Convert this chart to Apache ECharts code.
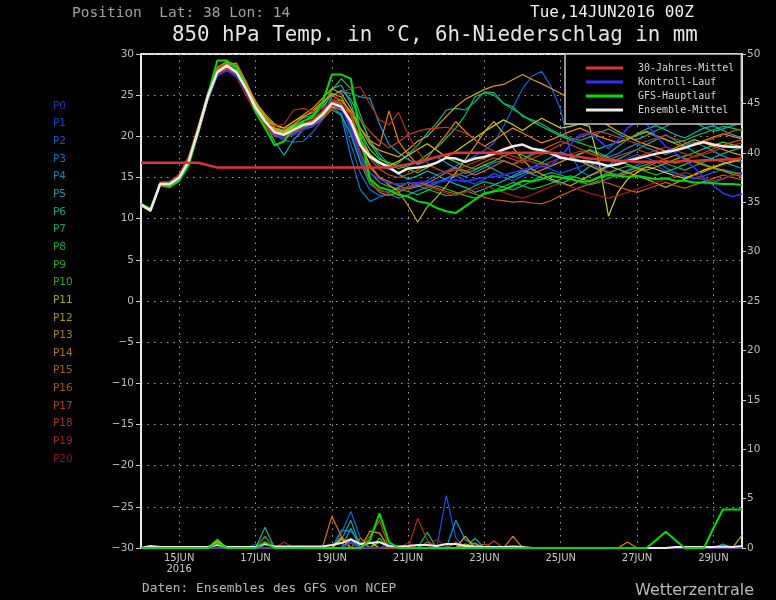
<!DOCTYPE html>
<html><head><meta charset="utf-8">
<script src="https://cdn.jsdelivr.net/npm/echarts@6/dist/echarts.min.js"></script>
<style>html,body{margin:0;padding:0;background:#000;}#chart{width:776px;height:600px;}</style>
</head><body><div id="chart"></div>
<script>
// ---------- axis / labels ----------
const stepHours = Array.from({length: 64}, (_, i) => String(i * 6)); // 14JUN2016 00Z + 6h steps
const tickLabels = ['15JUN\n2016', '17JUN', '19JUN', '21JUN', '23JUN', '25JUN', '27JUN', '29JUN'];
const memberNames = ['P0','P1','P2','P3','P4','P5','P6','P7','P8','P9','P10','P11','P12','P13','P14','P15','P16','P17','P18','P19','P20'];
const legendNames = ['30-Jahres-Mittel', 'Kontroll-Lauf', 'GFS-Hauptlauf', 'Ensemble-Mittel'];

// ---------- 850 hPa temperature (°C) ----------
const T_P01 = [11.6,11.1,14.0,14.3,14.8,16.8,20.5,24.6,27.5,28.0,27.2,25.4,23.2,21.5,20.2,19.8,20.3,21.0,21.5,22.8,24.5,23.8,
  20.5,17.0,14.8,13.8,13.4,13.6,13.9,14.2,14.0,14.5, 14.8,15.2,14.6,14.2,14.8,15.5,15.0,14.6,15.2,15.8,
  16.4,16.0,15.5,15.9,16.3,16.8,16.2,15.7,15.4,15.9, 16.5,16.9,16.4,15.8,15.5,15.1,14.8,15.2,15.6,16.0, 15.7,15.3];
const T_P02 = [11.8,11.0,14.3,14.0,15.2,17.2,21.0,25.0,27.6,28.2,27.5,25.6,23.8,22.0,20.2,19.5,19.3,19.4,20.5,22.0,23.5,22.8,
  19.0,15.5,13.5,12.8,13.0,13.4,13.8,14.0,14.6,15.3, 15.8,16.4,17.0,17.6,18.3,19.2,21.2,23.5,25.8,27.3,
  27.9,26.0,23.2,18.0,15.8,15.2,15.6,16.3,16.8,17.3, 17.8,17.4,16.9,16.2,15.6,15.2,15.0,14.7,14.4,14.8, 15.3,15.7];
const T_P03 = [11.7,10.9,14.1,14.2,15.0,17.1,20.9,24.9,27.9,28.4,27.6,25.9,23.7,21.9,20.6,20.3,20.6,21.2,21.4,22.3,23.6,22.5,
  17.5,13.5,12.1,12.6,13.0,12.5,12.9,13.4,13.8,14.3, 14.9,15.5,15.1,15.6,16.2,16.8,17.1,16.6,17.2,17.9,
  18.5,18.0,17.6,17.2,17.8,18.4,18.0,17.5,17.9,18.6, 19.1,18.6,18.2,17.8,18.3,18.9,19.3,18.8,18.2,17.6, 17.2,16.8];
const T_P04 = [11.6,11.2,14.4,14.4,15.3,17.4,21.2,25.2,28.0,28.9,28.3,26.5,24.3,22.4,21.0,20.8,21.5,22.2,22.6,23.5,25.0,25.5,
  25.2,24.8,24.6,21.5,19.0,18.0,17.2,16.6,17.0,17.5, 16.8,16.1,15.5,15.9,16.5,16.0,15.4,15.0,15.5,16.2,
  16.8,17.5,18.1,17.6,17.0,16.4,15.9,16.5,17.2,17.8, 18.4,19.0,19.6,20.2,19.5,18.8,18.1,17.6,17.2,16.9, 16.5,16.1];
const T_P05 = [11.8,11.1,14.2,14.1,14.9,16.8,20.4,24.4,27.4,28.3,27.9,26.2,24.0,21.6,19.4,17.7,19.6,20.8,21.2,22.4,24.8,25.6,
  24.5,22.0,19.5,17.8,16.6,15.4,14.8,15.2,15.8,15.3, 14.7,14.2,13.8,13.2,13.6,14.1,14.6,15.2,15.8,15.4,
  15.0,14.6,14.2,14.8,15.5,16.3,17.1,17.9,18.8,19.6, 20.3,20.9,21.3,20.8,20.2,19.8,20.4,21.0,21.3,20.7, 20.2,19.8];
const T_P06 = [11.7,11.0,14.3,14.3,15.1,17.3,21.1,25.1,28.2,28.8,28.0,25.7,23.2,21.4,20.4,20.1,20.9,21.8,22.3,23.6,25.8,26.2,
  24.0,20.5,17.6,16.4,16.0,16.8,17.8,18.9,20.4,21.6, 23.2,23.4,23.2,24.2,25.4,25.3,24.0,23.6,22.4,22.0,
  21.5,20.8,20.2,19.8,19.5,19.9,20.4,20.9,20.3,19.8, 19.6,20.1,20.7,21.2,21.8,22.3,21.7,21.1,20.6,20.9, 21.3,21.6];
const T_P07 = [11.6,11.0,14.1,14.2,14.9,16.9,20.7,24.7,27.7,28.5,27.7,25.7,23.4,21.7,20.4,20.1,20.6,21.2,21.3,22.1,23.2,22.6,
  20.2,16.8,14.2,13.4,13.2,13.8,14.4,14.0,13.6,13.2, 12.8,12.9,13.4,14.0,14.5,14.2,13.8,13.5,14.0,14.6,
  15.2,15.6,15.3,14.9,14.5,14.1,14.4,14.9,15.3,15.8, 16.2,16.6,17.0,16.7,16.3,15.9,16.4,16.9,17.4,17.9, 18.3,18.6];
const T_P08 = [11.7,11.1,14.2,14.1,15.0,17.0,20.9,25.0,28.1,29.0,28.3,26.0,23.5,21.7,20.6,20.4,21.0,21.5,21.9,23.0,25.6,27.0,
  25.8,22.6,19.2,17.4,16.5,16.1,16.4,16.9,17.8,18.6, 19.8,21.0,22.6,24.8,25.3,25.0,24.0,23.3,22.6,21.8,
  21.2,20.6,20.0,19.6,19.2,18.8,18.5,18.9,19.3,19.7, 20.1,20.5,20.0,19.6,19.2,19.5,20.0,20.4,20.8,21.2, 21.0,20.7];
const T_P09 = [11.7,11.0,14.2,14.3,15.0,17.1,20.8,24.9,28.0,28.7,27.9,25.9,23.6,21.9,20.7,20.4,21.1,21.6,21.8,22.8,24.2,23.7,
  21.2,18.0,15.6,14.4,13.9,13.6,13.3,12.9,13.4,14.0, 13.6,13.2,12.8,12.5,12.9,13.4,13.9,14.4,14.0,13.6,
  13.9,14.3,14.8,15.2,14.9,14.6,15.1,15.6,16.0,16.4, 16.1,15.7,15.3,15.7,16.1,16.6,17.0,16.6,16.2,15.9, 15.6,15.4];
const T_P10 = [11.8,11.1,14.2,14.2,15.1,17.0,20.9,24.9,28.0,28.7,28.0,26.1,23.8,22.2,20.9,20.6,21.3,21.9,22.2,23.0,24.3,24.4,
  23.0,20.5,18.4,17.2,16.8,16.4,16.0,15.6,16.2,16.8, 17.4,16.9,16.4,16.0,16.5,17.0,17.6,18.1,17.7,17.2,
  16.8,16.4,16.9,17.4,17.9,18.3,17.8,17.4,17.0,16.6, 16.2,15.9,16.3,16.7,17.2,17.6,18.0,18.5,18.9,19.3, 19.0,18.7];
const T_P11 = [11.6,10.9,14.1,14.0,14.8,16.7,20.4,24.4,27.4,28.2,27.6,25.8,23.7,22.0,20.8,20.5,21.2,21.6,21.5,22.4,23.6,23.2,
  21.8,19.6,17.8,16.9,16.4,17.0,17.7,18.4,19.1,18.3, 17.5,18.2,19.0,19.8,20.6,21.3,22.0,21.4,20.7,21.5,
  22.2,21.6,21.0,21.2,21.5,21.2,17.0,10.3,13.2,14.8, 15.6,16.3,16.0,15.6,15.2,14.9,15.4,15.9,16.3,16.7, 17.0,17.3];
const T_P12 = [11.7,11.0,14.3,14.4,15.2,17.2,21.0,24.9,27.6,28.3,27.7,25.9,24.0,22.4,21.3,21.0,21.8,22.4,22.9,24.0,25.2,24.8,
  22.6,19.2,16.5,15.0,14.1,13.3,11.6,9.6,11.4,12.6, 14.0,15.6,17.2,18.8,20.6,21.8,20.4,18.6,17.2,16.0,
  15.4,14.8,14.4,14.0,14.6,15.2,15.8,16.4,16.0,15.6, 15.2,14.8,14.3,13.8,14.3,14.8,15.3,15.7,16.2,16.6, 16.9,17.2];
const T_P13 = [11.7,11.1,14.2,14.3,15.1,17.1,21.0,25.2,28.4,29.1,28.6,26.4,24.2,22.7,21.5,21.0,21.8,22.6,23.4,24.6,25.8,25.2,
  23.4,21.0,19.0,18.3,17.9,17.5,18.4,19.4,20.0,21.2, 22.4,23.6,24.5,25.1,25.7,26.1,26.3,26.9,27.5,26.9,
  26.4,25.8,25.2,24.6,23.8,22.9,22.0,21.3,20.6,20.0, 19.4,19.0,18.6,18.2,18.6,19.1,19.6,19.2,18.8,18.4, 18.0,17.7];
const T_P14 = [11.5,10.9,14.0,13.8,14.6,16.6,20.3,24.5,27.9,28.7,28.9,26.7,24.1,22.5,21.0,20.7,21.4,22.3,23.1,24.2,25.0,24.3,
  23.0,21.0,19.5,18.8,23.1,19.4,17.8,16.6,17.4,18.8, 20.2,21.8,20.6,19.6,18.8,19.5,20.3,21.0,20.4,19.8,
  19.2,19.6,20.1,20.6,21.0,20.5,20.0,19.6,19.2,19.7, 20.2,20.6,20.1,19.6,19.1,18.7,19.1,19.5,19.9,20.3, 20.0,19.7];
const T_P15 = [11.6,11.0,14.1,14.1,14.9,16.9,20.6,24.7,27.9,28.5,27.9,25.8,23.4,21.8,20.7,20.3,20.9,21.5,21.9,23.0,24.4,24.0,
  22.0,18.8,16.2,15.0,14.5,14.0,13.6,13.9,14.3,14.9, 15.6,16.2,15.8,15.3,15.8,16.4,17.0,16.6,16.0,15.5,
  15.9,16.4,16.9,17.4,17.0,16.5,16.0,15.6,15.2,15.5, 15.9,16.3,16.8,17.3,17.7,17.3,16.9,16.5,16.1,15.8, 15.4,15.1];
const T_P16 = [11.7,11.1,14.2,14.2,15.0,17.0,20.7,24.6,27.6,28.4,27.8,25.6,23.2,21.3,20.1,19.9,20.4,21.0,21.3,22.3,23.7,23.4,
  21.4,17.6,14.6,13.2,12.8,13.2,13.8,14.4,14.1,13.7, 13.3,13.0,13.4,13.0,12.6,12.3,12.2,12.0,12.1,11.9,
  11.8,12.2,12.8,13.3,13.8,14.2,14.6,14.3,13.9,13.5, 13.2,13.6,14.0,14.4,14.0,13.7,14.1,14.5,14.9,15.3, 15.0,14.7];
const T_P17 = [11.8,11.2,14.4,14.5,15.3,17.5,21.3,25.3,28.2,28.8,27.9,25.6,23.1,21.3,20.2,20.0,20.7,21.3,21.7,22.7,24.1,24.0,
  22.6,19.8,17.3,16.0,15.3,15.0,15.4,15.9,16.5,16.1, 15.6,15.2,15.7,16.3,16.9,17.4,17.0,16.6,17.1,17.7,
  18.3,18.9,19.4,19.0,18.5,18.0,17.6,17.2,17.6,18.0, 18.4,18.0,17.6,17.1,16.7,17.1,17.6,18.0,18.5,18.9, 19.3,19.6];
const T_P18 = [11.7,11.0,14.3,14.4,15.4,17.6,21.2,25.0,27.7,28.3,27.6,25.5,23.1,21.2,20.0,19.8,20.5,21.0,21.2,22.0,23.3,23.4,
  22.8,22.0,20.6,19.4,18.6,19.3,20.2,20.6,20.9,21.0, 21.1,20.8,20.4,19.6,18.8,18.2,17.6,17.2,16.8,17.3,
  17.8,18.4,19.0,19.5,19.9,20.3,20.6,20.3,19.9,19.5, 19.1,19.4,19.8,20.1,19.7,19.3,18.9,19.3,19.8,20.2, 20.6,20.9];
const T_P19 = [11.7,11.1,14.2,14.3,15.2,17.4,21.2,25.0,27.5,28.1,27.2,25.0,22.8,21.6,21.2,21.5,23.2,23.4,23.0,23.4,24.2,25.3,
  25.8,26.0,23.9,22.0,21.4,22.9,20.2,18.2,16.8,16.0, 15.6,15.9,16.4,16.9,17.3,17.7,18.0,17.6,17.2,16.9,
  16.5,16.9,17.4,17.8,18.2,17.9,17.5,17.1,16.7,17.1, 17.5,17.9,18.3,18.7,18.3,17.9,17.5,17.8,18.2,18.6, 18.9,19.2];
const T_P20 = [11.6,11.0,14.1,14.2,15.0,17.0,20.6,24.5,27.3,28.0,27.4,25.3,23.0,21.5,20.3,20.0,20.8,21.6,22.1,23.1,24.4,24.2,
  21.8,18.0,15.0,13.6,13.0,13.4,13.9,14.3,13.9,13.5, 13.1,12.8,13.2,13.6,14.0,13.6,13.2,12.8,12.5,12.9,
  13.4,13.9,14.3,13.9,13.5,13.1,12.8,12.5,12.8,13.2, 13.6,14.0,14.4,14.8,15.2,15.6,15.3,14.9,14.6,14.9, 15.2,15.5];
const T_CTRL = [11.7,11.0,14.1,14.3,15.0,16.9,20.6,24.6,27.4,28.0,27.4,25.5,23.3,21.8,20.3,19.8,20.2,20.8,21.3,22.5,24.0,23.4,
  21.0,17.5,15.5,14.8,14.3,14.2,14.3,14.4,14.5,14.4, 14.6,14.7,14.5,14.8,15.0,15.1,15.3,15.6,15.9,16.3,
  16.3,16.5,17.5,19.0,20.2,20.4,19.5,18.5,19.5,21.0, 21.8,21.5,20.0,18.8,18.0,17.1,16.2,15.0,14.0,13.1, 12.7,13.0];
const T_GFS = [11.8,11.2,14.2,13.9,14.6,16.5,20.5,25.0,29.2,29.2, 28.4,26.0,23.0,21.0,18.9,19.4,21.0,21.8,22.5,24.0,
  27.5,27.5,27.0,20.0,14.8,13.8,13.5,12.9,12.7,12.1, 11.9,11.3,10.9,10.7,11.5,12.3,13.1,13.3,13.5,14.0,
  14.6,14.5,14.8,15.2,15.0,14.8,14.5,14.5,15.0,15.3, 15.2,15.1,15.2,15.0,14.8,14.9,14.6,14.6,14.4,14.4, 14.3,14.2,14.2,14.1];
const T_MEAN = [11.7,11.0,14.2,14.2,15.0,17.0,20.8,24.8,27.8,28.6, 27.8,25.8,23.5,21.8,20.5,20.2,20.8,21.4,21.6,22.6,
  24.0,23.6,21.8,18.9,17.5,16.8,16.2,15.5,16.1,16.2, 16.4,16.8,17.4,17.3,16.9,17.3,17.5,17.9,18.4,18.8,
  19.0,18.5,18.3,17.9,17.4,17.2,17.0,16.9,16.7,16.4, 16.6,17.0,17.3,17.6,17.9,18.1,18.3,18.6,19.0,19.3, 19.0,18.8,18.7,18.7];
const T_CLIM = [16.8,16.8,16.8,16.8,16.8,16.8,16.8,16.5,16.2,16.2, 16.2,16.2,16.2,16.2,16.2,16.2,16.2,16.2,16.2,16.2,
  16.2,16.2,16.2,16.2,16.2,16.2,16.2,16.4,16.6,16.9, 17.2,17.5,17.8,18.0,18.0,18.0,18.0,18.0,18.0,18.0,
  18.0,18.0,18.0,18.0,17.9,17.7,17.5,17.3,17.2,17.1, 17.0,17.0,16.9,16.9,16.9,16.9,16.9,17.0,17.0,17.1, 17.1,17.2,17.2,17.3];

// ---------- 6h precipitation (mm) ----------
const P_P01 = [0,0,0,0,0,0,0,0, 0,0,0,0,0,0.5,0,0, 0,0,0,0,0,0,0.6,0, 0,0,0,0,0,0,0,0, 5.3,1.0,0,0,0,0,0,0, 0,0,0,0,0,0,0,0, 0,0,0,0,0,0,0,0, 0,0,0,0,0,0,0,0];
const P_P02 = [0,0,0,0,0,0,0,0, 0,0,0,0,0.4,0,0,0, 0,0,0,0,0,1.5,3.7,1.0, 0,0,0,0,0,0,0,0, 0,0,0,0,0,0,0,0, 0,0,0,0,0,0,0,0, 0,0,0,0,0,0,0,0, 0,0,0,0,0,0,0,0];
const P_P03 = [0,0,0,0,0,0,0,0, 0,0,0,0,0,0,0,0, 0,0,0,0,0,1.8,1.7,0.6, 0,0,0,0,0,0,0,0, 0,0.5,0,0,0,0,0,0, 0,0,0,0,0,0,0,0, 0,0,0,0,0,0,0,0, 0,0,0,0,0,0,0,0];
const P_P04 = [0,0,0,0,0,0,0,0, 0,0,0,0,0,0,0,0, 0,0,0,0,0,0,2.0,0, 0,0,0,0,0,0,0,0, 0,2.8,0.8,0.4,0,0,0,0, 0,0,0,0,0,0,0,0, 0,0,0,0,0,0,0,0, 0,0,0,0,0,0,0,0];
const P_P05 = [0,0,0,0,0,0,0,0, 0,0,0,0,0,0,0,0, 0,0,0,0,0,0,0.9,0, 0,0,0,0,0,0,0,0, 0,0,0,1.0,0,0,0,0, 0,0,0,0,0,0,0,0, 0,0,0,0,0,0,0,0, 0,0,0,0,0,0.4,0,0];
const P_P06 = [0,0,0,0,0,0,0,0, 0,0,0,0,0,2.1,0,0, 0,0,0,0,0,0.8,2.8,0, 0,0,0,0,0,0,0,0, 0,0,0,0,0,0,0,0, 0,0,0,0,0,0,0,0, 0,0,0,0,0,0,0,0, 0,0,0,0,0,0,0,0];
const P_P07 = [0,0,0,0,0,0,0,0, 0.5,0,0,0,0,1.2,0,0, 0,0,0,0,0,0,0,0, 0,0,0,0,0,0,0.6,0, 0,0,0,0,0,0,0,0, 0,0,0,0,0,0,0,0, 0,0,0,0,0,0,0,0, 0,0,0,0,0,0,0,0];
const P_P08 = [0,0,0,0,0,0,0,0, 0.6,0,0,0,0,0,0,0, 0,0,0,0,0,0,0.5,0, 0,0,0,0,0,0,1.6,0, 0,0,0,0,0,0,0,0, 0,0,0,0,0,0,0,0, 0,0,0,0,0,0,0,0, 0,0,0,0,0,0,0,0];
const P_P09 = [0,0,0,0,0,0,0,0, 0.4,0,0,0,0,0,0,0, 0,0,0,0,0,0,0,0, 0,1.0,0,0,0,0,0,0, 0,0,0,0,0,0,0,0, 0,0,0,0,0,0,0,0, 0,0,0,0,0,0,0,0, 0,0,0,0,0,0,0,0];
const P_P10 = [0,0,0,0,0,0,0,0, 0.9,0,0,0,0,0,0,0, 0,0,0,0,0,0,0,0, 0,0.6,0,0,0,0,0,0, 0,0,0,0,0,0,0,0, 0,0,0,0,0,0,0,0, 0,0,0,0,0,0,0,0, 0,0,0,0,0,0,0,0];
const P_P11 = [0,0,0,0,0,0,0,0, 0.7,0,0,0,0,0,0,0, 0,0,0,0,0,0,0,0, 0.6,0,0,0,0,0,0,0, 0,0,0.4,0,0,0,0,0, 0,0,0,0,0,0,0,0, 0,0,0,0,0,0,0,0, 0,0,0,0,0,0,0,0];
const P_P12 = [0,0,0,0,0,0,0,0, 0,0,0,0,0,0,0,0, 0,0,0,0,0,0.9,0,0, 0,0,0,0,0,0,0,0, 0,0,0,0,0,0,0,0, 0,0,0,0,0,0,0,0, 0,0,0,0,0,0,0,0, 0,0,0,0,0,0,0,1.3];
const P_P13 = [0,0,0,0,0,0,0,0, 0,0,0,0,0,0,0,0, 0,0,0,0,0,1.1,0,0, 1.7,1.5,0,0,0,0,0,0, 0,0,1.2,0,0,0,0,0, 0,0,0,0,0,0,0,0, 0,0,0,0,0,0,0,0, 0,0,0,0,0,0,0,0];
const P_P14 = [0,0,0,0,0,0,0,0, 0,0,0,0,0,0,0,0, 0,0,0,0,0,0,0.8,0, 0,0,0,0,0,0,0,0, 0,0,0,0.5,0,0,0,0, 0,0,0,0,0,0,0,0, 0,0,0,0.6,0,0,0,0, 0,0,0,0,0,0,0,0];
const P_P15 = [0,0,0,0,0,0,0,0, 0,0,0,0,0,0,0,0, 0,0,0,0,3.2,1.2,0,0, 0,0,0,0,0,0,0,0, 0,0,0,0,0,0,0,1.2, 0,0,0,0,0,0,0,0, 0,0,0,0,0,0,0,0, 0,0,0,0,0,0,0,0];
const P_P16 = [0,0,0,0,0,0,0,0, 0,0,0,0,0,0,0,0, 0,0,0,0,0,0,0,1.0, 0,0,0,0,0,0,0,0, 0,0,0,0,0.4,0,0,0, 0,0,0,0,0,0,0,0, 0,0,0,0,0,0,0,0, 0,0,0,0,0,0,0,0];
const P_P17 = [0,0,0,0,0,0,0,0, 0,0,0,0,0,0,0,0, 0,0,0,0,0,0,0.5,0, 0,0,0,0,0,0,0,0, 0,0.6,0,0,0,0,0,0, 0,0,0,0,0,0,0,0, 0,0,0,0,0,0,0,0, 0,0,0,0,0,0,0,0];
const P_P18 = [0,0,0,0,0,0,0,0, 0,0,0,0,0,0,0,0, 0,0,0,0,0,0,0,0, 1.2,2.8,0,0,0,0,0,0, 0,0,0,0,0,0.7,0,0, 0,0,0,0,0,0,0,0, 0,0,0,0,0,0,0,0, 0,0,0,0,0,0,0,0];
const P_P19 = [0,0,0,0,0,0,0,0, 0,0,0,0,0,1.1,0,0, 0,0,0,0,0,0,0,0, 0,0,0,0,0,3.0,0.8,0, 0,0,0,0,0,0,0,0, 0,0,0,0,0,0,0,0, 0,0,0,0,0,0,0,0, 0,0,0,0,0,0,0,0];
const P_P20 = [0,0,0,0,0,0,0,0, 0,0,0,0,0,0,0,0.6, 0,0,0,0,0,0,0,0, 0,0,0,0,0.5,0,0,0.9, 0,0,0,0,0,0,0,0, 0,0,0,0,0,0,0,0, 0,0,0,0,0,0,0,0, 0,0,0,0,0,0,0,0];
const P_CTRL = [0,0,0,0,0,0,0,0, 0,0,0,0,0,0,0,0, 0,0,0,0,0,0,0.6,0, 0,0,0.4,0,0,0,0,0, 0,0,0,0,0,0,0,0, 0,0,0,0,0,0,0,0, 0,0,0,0,0,0,0,0, 0,0,0,0,0,0,0,0];
const P_GFS = [0,0,0,0,0,0,0,0, 0.5,0,0,0,0,0.6,0,0, 0,0,0,0,0,0,0,0, 0.8,3.5,0.6,0,0,0,0,0, 0,0,0,0,0,0,0,0, 0,0,0,0,0,0,0,0, 0,0,0,0,0,0,0.8,1.65, 0.8,0,0,0,2.0,3.9,3.9,3.9];
const P_MEAN = [0,0.2,0.1,0.1,0.1,0.1,0.1,0.1, 0.3,0.1,0.1,0.1,0.1,0.4,0.15,0.15, 0.15,0.15,0.15,0.15,0.3,0.5,0.9,0.4, 0.5,0.6,0.2,0.15,0.2,0.3,0.3,0.2, 0.4,0.4,0.2,0.15,0.1,0.1,0.1,0.15, 0.1,0,0,0,0,0,0,0, 0,0,0,0,0,0,0,0, 0.1,0.1,0.1,0.1,0.1,0.15,0.1,0.2];

const memberTemps = [T_P01,T_P02,T_P03,T_P04,T_P05,T_P06,T_P07,T_P08,T_P09,T_P10,T_P11,T_P12,T_P13,T_P14,T_P15,T_P16,T_P17,T_P18,T_P19,T_P20];
const memberPrecip = [P_P01,P_P02,P_P03,P_P04,P_P05,P_P06,P_P07,P_P08,P_P09,P_P10,P_P11,P_P12,P_P13,P_P14,P_P15,P_P16,P_P17,P_P18,P_P19,P_P20];

// ---------- styles ----------
const lineColors = ['#1e4cf0','#0a66e0','#0a84d4','#08a0cc','#06b4b4','#06b494','#06b470','#06c450','#1ec81e','#50c810',
  '#d0d010','#c8ac10','#dc9c10','#e88410','#d87010','#c86010','#c05010','#c83c18','#b82a18','#a81a18'];
const labelColors = ['#2a2ab8','#1a44c8','#1458c0','#1070b8','#0e88b0','#0c9ea8','#0ca488','#0ca468','#0ca448','#18a428','#34a812',
  '#a8a812','#a89412','#a88212','#b07212','#a86212','#a85412','#a84412','#a83418','#a02418','#901818'];
const C_CLIM = '#e03434', C_CTRL = '#3030ff', C_GFS = '#00dd00', C_MEAN = '#ececec';

const series = [];
memberTemps.forEach((d, k) => series.push({name: memberNames[k+1], type: 'line', data: d, yAxisIndex: 0,
  symbol: 'none', silent: true, lineStyle: {width: 1.2, color: lineColors[k]}, itemStyle: {color: lineColors[k]}}));
memberPrecip.forEach((d, k) => series.push({name: memberNames[k+1] + ' NS', type: 'line', data: d, yAxisIndex: 1,
  symbol: 'none', silent: true, lineStyle: {width: 1.2, color: lineColors[k]}, itemStyle: {color: lineColors[k]}}));
function addLine(name, data, axis, color, width) {
  series.push({name, type: 'line', data, yAxisIndex: axis, symbol: 'none', silent: true,
    lineStyle: {width, color}, itemStyle: {color}});
}
addLine('Kontroll-Lauf', T_CTRL, 0, C_CTRL, 1.6);
addLine('GFS-Hauptlauf', T_GFS, 0, C_GFS, 2);
addLine('Ensemble-Mittel', T_MEAN, 0, C_MEAN, 2.5);
addLine('30-Jahres-Mittel', T_CLIM, 0, C_CLIM, 2.5);
addLine('Kontroll-Lauf NS', P_CTRL, 1, C_CTRL, 1.6);
addLine('Ensemble-Mittel NS', P_MEAN, 1, C_MEAN, 2);
addLine('GFS-Hauptlauf NS', P_GFS, 1, C_GFS, 2);

const graphics = [
  {type: 'text', x: 72, y: 13, style: {text: 'Position  Lat: 38 Lon: 14', fill: '#a0a0a0', font: '14.5px "DejaVu Sans Mono"', align: 'left', verticalAlign: 'middle'}},
  {type: 'text', x: 530, y: 13, style: {text: 'Tue,14JUN2016 00Z', fill: '#f0f0f0', font: '16px "DejaVu Sans Mono"', align: 'left', verticalAlign: 'middle'}},
  {type: 'text', x: 172, y: 36, style: {text: '850 hPa Temp. in °C, 6h-Niederschlag in mm', fill: '#e4e4e4', font: '20.8px "DejaVu Sans Mono"', align: 'left', verticalAlign: 'middle'}},
  {type: 'text', x: 142, y: 589, style: {text: 'Daten: Ensembles des GFS von NCEP', fill: '#b4b4b4', font: '12.8px "DejaVu Sans Mono"', align: 'left', verticalAlign: 'middle'}},
  {type: 'text', x: 635, y: 591, style: {text: 'Wetterzentrale', fill: '#b8b8b8', font: '16px "DejaVu Sans"', align: 'left', verticalAlign: 'middle'}}
];
memberNames.forEach((n, k) => graphics.push({type: 'text', x: 53, y: 106 + 17.65 * k,
  style: {text: n, fill: labelColors[k], font: '10.5px "DejaVu Sans"', align: 'left', verticalAlign: 'middle'}}));

// sanity check of array lengths
const allArrays = memberTemps.concat(memberPrecip, [T_CTRL, T_GFS, T_MEAN, T_CLIM, P_CTRL, P_GFS, P_MEAN]);
const bad = allArrays.map((a, i) => a.length !== 64 ? i + ':' + a.length : null).filter(Boolean);
if (bad.length) graphics.push({type: 'text', x: 200, y: 300, z: 100, style: {text: 'LEN ' + bad.join(' '), fill: '#ff0', font: '14px sans-serif'}});

const fmtNeg = v => v < 0 ? '\u2212' + Math.abs(v) : String(v);

const chart = echarts.init(document.getElementById('chart'), null, {renderer: 'canvas'});
chart.setOption({
  backgroundColor: '#000',
  animation: false,
  grid: {left: 141, right: 34, top: 54, bottom: 52, show: true, borderColor: '#e4e4e4', borderWidth: 2, backgroundColor: 'transparent'},
  legend: {
    data: legendNames, orient: 'vertical', left: 565, top: 54, selectedMode: false,
    padding: [8, 7, 8, 21], itemWidth: 37, itemHeight: 3, itemGap: 2, icon: 'rect',
    backgroundColor: '#000', borderColor: '#c8c8c8', borderWidth: 1.5,
    textStyle: {color: '#d4d4d4', fontSize: 10, lineHeight: 12, fontFamily: 'DejaVu Sans Mono', padding: [0, 0, 0, 10]}
  },
  xAxis: {
    type: 'category', data: stepHours, boundaryGap: false,
    axisLine: {onZero: false, lineStyle: {color: '#e8e8e8', width: 2}},
    axisTick: {show: false},
    axisLabel: {interval: (i) => i % 8 === 4, formatter: (v, i) => tickLabels[(i - 4) / 8] || '',
      color: '#c8c8c8', fontSize: 10, fontFamily: 'DejaVu Sans', margin: 5, lineHeight: 11},
    splitLine: {show: true, interval: (i) => i % 8 === 4, lineStyle: {color: '#a0a0a0', width: 1, type: [1.5, 5]}}
  },
  yAxis: [
    {type: 'value', min: -30, max: 30, interval: 5, position: 'left',
      axisLine: {show: true, lineStyle: {color: '#e8e8e8', width: 2}},
      axisTick: {show: true, length: 5, lineStyle: {color: '#d0d0d0'}},
      axisLabel: {color: '#bcbcbc', fontSize: 10.5, fontFamily: 'DejaVu Sans', margin: 7, formatter: fmtNeg},
      splitLine: {show: true, lineStyle: {color: '#a0a0a0', width: 1, type: [1.5, 5]}}},
    {type: 'value', min: 0, max: 50, interval: 5, position: 'right',
      axisLine: {show: true, lineStyle: {color: '#e8e8e8', width: 2}},
      axisTick: {show: true, length: 4, lineStyle: {color: '#d0d0d0'}},
      axisLabel: {color: '#bcbcbc', fontSize: 10.5, fontFamily: 'DejaVu Sans', margin: 5},
      splitLine: {show: false}}
  ],
  series: series,
  graphic: graphics
});
</script>
</body></html>
